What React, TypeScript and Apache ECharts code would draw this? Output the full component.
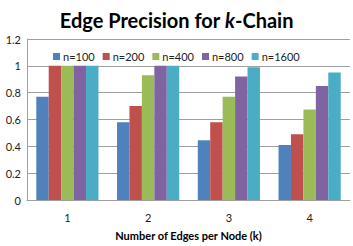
import React, { useEffect, useRef } from "react";
import * as echarts from "echarts";

const categories = ["1", "2", "3", "4"];
const seriesNames = ["n=100", "n=200", "n=400", "n=800", "n=1600"];
const n100 = [0.77, 0.58, 0.445, 0.41];
const n200 = [1, 0.7, 0.58, 0.49];
const n400 = [1, 0.93, 0.77, 0.675];
const n800 = [1, 1, 0.92, 0.85];
const n1600 = [1, 1, 0.99, 0.95];
const colors = ["#4F81BD", "#C0504D", "#9BBB59", "#8064A2", "#4BACC6"];

export default function App() {
  const ref = useRef<HTMLDivElement>(null);
  useEffect(() => {
    document.body.style.margin = "0";
    const chart = echarts.init(ref.current!, null, { renderer: "svg" });
    const data = [n100, n200, n400, n800, n1600];
    const font = "Lato, 'Open Sans', sans-serif";
    chart.setOption({
      animation: false,
      color: colors,
      textStyle: { fontFamily: font },
      title: {
        text: "{a|Edge Precision for }{b|k}{a|-Chain}",
        left: "center",
        top: 5,
        textStyle: {
          rich: {
            a: { fontFamily: font, fontWeight: "bold", fontSize: 20, color: "#000" },
            b: { fontFamily: font, fontWeight: "bold", fontStyle: "italic", fontSize: 20, color: "#000" },
          },
        },
      },
      legend: {
        data: seriesNames,
        top: 46,
        left: 48,
        itemWidth: 7,
        itemHeight: 7,
        itemGap: 8,
        icon: "rect",
        textStyle: { fontSize: 11, color: "#222", fontFamily: font, padding: [0, 0, 0, -2] },
      },
      grid: { left: 27, right: 3, top: 39, bottom: 45 },
      xAxis: {
        type: "category",
        data: categories,
        axisTick: { show: false },
        axisLine: { lineStyle: { color: "#a0a0a0" } },
        axisLabel: { fontSize: 11, color: "#222", margin: 12 },
        name: "Number of Edges per Node (k)",
        nameLocation: "middle",
        nameGap: 30,
        nameTextStyle: { fontSize: 11, fontWeight: "bold", color: "#000" },
      },
      yAxis: {
        type: "value",
        min: 0,
        max: 1.2,
        interval: 0.2,
        axisLine: { show: true, lineStyle: { color: "#a0a0a0" } },
        axisTick: { show: false },
        splitLine: { lineStyle: { color: "#a0a0a0" } },
        axisLabel: {
          fontSize: 11,
          color: "#222",
          margin: 6,
          formatter: (v: number) => String(Math.round(v * 10) / 10),
        },
      },
      series: seriesNames.map((name, i) => ({
        name,
        type: "bar",
        data: data[i],
        barGap: "0%",
        barCategoryGap: "23%",
      })),
    });
    return () => chart.dispose();
  }, []);
  return <div ref={ref} style={{ width: 353, height: 246 }} />;
}
